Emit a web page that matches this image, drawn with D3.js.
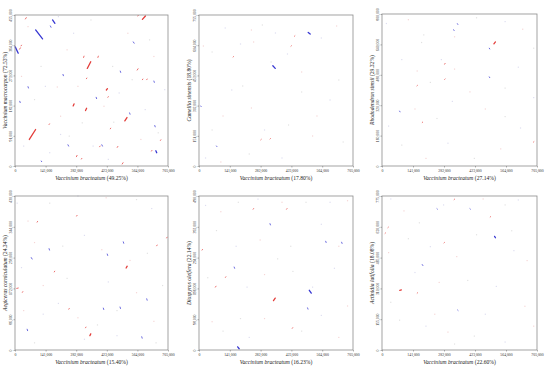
<!DOCTYPE html>
<html>
<head>
<meta charset="utf-8">
<script src="https://cdn.jsdelivr.net/npm/d3@7"></script>
<style>
  body { margin: 0; background: #fff; }
  svg { display: block; }
  text { font-family: "Liberation Serif", "DejaVu Serif", serif; }
</style>
</head>
<body>
<div id="chart"></div>
<script>
// species on the y axis of each panel, with the share of aligned sequence
const yNames = ["Vaccinium macrocarpon", "Camellia sinensis", "Rhododendron simsii",
                "Aegiceras corniculatum", "Diospyros oleifera", "Actinidia latifolia"];
const yPct = ["72.53%", "18.80%", "29.32%", "24.34%", "22.14%", "18.08%"];
const xName = "Vaccinium bracteatum";
const xPct = ["49.25%", "17.80%", "27.14%", "15.40%", "16.23%", "22.60%"];

// tick labels (bp)
const xTicks = [0, 141000, 282000, 423000, 564000, 705000];
const yTicks = [
  [0, 91000, 182000, 273000, 364000, 455000],
  [0, 151000, 302000, 453000, 604000, 755000],
  [0, 160000, 320000, 480000, 640000, 800000],
  [0, 86000, 172000, 258000, 344000, 430000],
  [0, 98000, 196000, 294000, 392000, 490000],
  [0, 155000, 310000, 465000, 620000, 775000]
];

// homologous hits, [x start, y start, x end, y end] in kb
const hits1 = [
  [95, 410, 127, 383], [173, 440, 184, 430], [163, 422, 166, 418], [1, 359, 15, 340],
  [21, 352, 25, 356], [28, 362, 30, 364], [587, 442, 601, 452], [566, 452, 568, 454],
  [545, 374, 549, 370], [333, 294, 349, 314], [316, 327, 318, 331], [382, 327, 384, 331],
  [485, 286, 487, 282], [221, 276, 223, 272], [563, 289, 567, 293], [587, 260, 589, 262],
  [607, 260, 609, 262], [640, 256, 642, 252], [329, 263, 331, 265], [60, 239, 62, 235],
  [421, 229, 426, 233], [428, 207, 430, 209], [374, 207, 376, 203], [268, 181, 272, 187],
  [325, 167, 330, 174], [22, 195, 24, 191], [528, 160, 530, 156], [506, 136, 516, 146],
  [157, 125, 159, 127], [66, 80, 95, 110], [439, 112, 441, 114], [644, 122, 646, 118],
  [670, 77, 672, 79], [244, 64, 247, 60], [400, 64, 403, 60], [390, 58, 392, 60],
  [471, 56, 474, 59], [649, 46, 653, 40], [629, 45, 631, 47], [283, 28, 286, 32],
  [306, 21, 308, 23], [494, 6, 498, 10], [121, 15, 123, 13], [48, 443, 52, 447]
];
const hits2 = [
  [338, 501, 349, 488], [500, 668, 509, 660], [8, 300, 10, 297], [283, 131, 285, 133],
  [325, 135, 327, 137], [156, 545, 158, 547], [80, 100, 82, 97], [421, 599, 423, 601],
  [437, 649, 439, 651]
];
const hits3 = [
  [343, 749, 345, 745], [326, 717, 328, 713], [509, 643, 516, 653], [285, 536, 287, 540],
  [488, 620, 490, 616], [80, 289, 82, 285], [183, 229, 185, 231], [689, 126, 691, 128],
  [488, 469, 490, 465], [159, 422, 161, 424], [285, 456, 287, 458]
];
const hits4 = [
  [75, 258, 79, 254], [512, 229, 517, 234], [181, 218, 183, 220], [8, 172, 15, 173],
  [34, 161, 36, 163], [345, 40, 349, 45], [325, 62, 327, 64], [157, 283, 159, 279],
  [425, 268, 427, 264], [284, 374, 286, 376], [499, 302, 501, 298], [607, 143, 609, 139],
  [56, 58, 58, 54], [102, 357, 104, 359], [699, 313, 701, 315], [653, 291, 655, 293],
  [584, 37, 586, 33], [407, 117, 409, 113], [248, 114, 250, 116], [484, 120, 486, 116]
];
const hits5 = [
  [505, 190, 514, 181], [341, 157, 349, 165], [75, 200, 78, 203], [14, 318, 16, 320],
  [177, 10, 184, 4], [325, 402, 327, 398], [401, 448, 403, 450], [248, 448, 250, 450],
  [161, 264, 163, 260], [427, 69, 429, 71], [497, 134, 499, 130], [121, 231, 123, 233],
  [580, 346, 582, 342], [653, 343, 655, 339]
];
const hits6 = [
  [512, 572, 516, 565], [81, 300, 88, 302], [14, 587, 16, 589], [183, 430, 186, 425],
  [250, 711, 252, 709], [400, 711, 402, 709], [344, 201, 346, 199], [160, 286, 162, 288],
  [328, 757, 330, 759], [282, 539, 284, 541], [492, 669, 494, 671], [27, 616, 29, 618]
];

// faint low-identity hits, [x, y] in kb
const faint1 = [[40, 60], [60, 420], [120, 300], [200, 450], [210, 150], [250, 90], [270, 400],
  [290, 240], [350, 440], [360, 60], [410, 180], [450, 300], [480, 220], [520, 400], [540, 260],
  [600, 170], [640, 330], [660, 100], [690, 230], [30, 270], [90, 200], [160, 40], [240, 350],
  [310, 130], [430, 20], [580, 80], [620, 380], [140, 240], [195, 238], [455, 132], [210, 95]];
const faint2 = [[120, 690], [240, 680], [290, 705], [350, 665], [20, 600], [60, 570], [190, 610],
  [250, 620], [330, 520], [405, 560], [470, 470], [640, 430], [600, 330], [540, 250], [410, 205],
  [300, 180], [240, 290], [200, 400], [150, 380], [110, 250], [60, 180], [30, 40], [100, 20],
  [230, 60], [380, 40], [520, 150], [660, 120], [560, 640], [630, 700], [470, 370]];
const faint3 = [[20, 750], [120, 770], [190, 690], [270, 560], [330, 680], [430, 780], [560, 760],
  [640, 720], [690, 620], [90, 560], [160, 500], [220, 440], [320, 340], [400, 390], [560, 410],
  [620, 520], [470, 300], [560, 260], [630, 200], [540, 90], [420, 40], [300, 120], [200, 40],
  [90, 110], [30, 210], [150, 300], [250, 250], [690, 360], [330, 510], [180, 650]];
const faint4 = [[10, 410], [60, 360], [160, 410], [290, 430], [420, 425], [560, 420], [630, 395],
  [90, 300], [220, 290], [320, 320], [400, 280], [610, 270], [30, 230], [130, 180], [240, 200],
  [430, 190], [560, 160], [680, 180], [200, 130], [290, 90], [380, 70], [470, 40], [640, 80],
  [90, 20], [130, 100], [530, 250], [650, 20], [320, 30], [40, 110], [470, 110]];
const faint5 = [[30, 460], [100, 440], [180, 470], [270, 480], [380, 470], [490, 470], [600, 470],
  [680, 475], [80, 380], [170, 330], [280, 350], [420, 330], [560, 400], [640, 330], [40, 230],
  [220, 200], [300, 240], [430, 250], [620, 260], [60, 90], [110, 60], [230, 40], [300, 100],
  [470, 60], [560, 110], [640, 40], [190, 100], [520, 200], [680, 140], [360, 290]];
const faint6 = [[40, 760], [100, 700], [170, 640], [280, 730], [460, 760], [560, 730], [620, 755],
  [30, 490], [120, 560], [220, 520], [340, 470], [430, 580], [600, 500], [660, 450], [40, 240],
  [150, 390], [260, 340], [390, 350], [520, 320], [650, 220], [80, 150], [200, 120], [300, 90],
  [420, 70], [560, 40], [690, 120], [330, 30], [470, 180], [240, 180], [590, 600]];

const hits = [hits1, hits2, hits3, hits4, hits5, hits6];
const faint = [faint1, faint2, faint3, faint4, faint5, faint6];

// plot boxes [left, top, right, bottom]
const boxes = [
  [15, 15, 168, 166], [199, 15, 353, 166], [382, 14, 537, 166],
  [15, 196, 168, 350], [199, 196, 353, 350], [382, 196, 537, 350]
];

const svg = d3.select("#chart").append("svg")
    .attr("width", 550)
    .attr("height", 368);

const fmt = d3.format(",");
const fwd = "#e2312e", rev = "#2b2bd0";
const span = d => Math.abs(d[2] - d[0]) + Math.abs(d[3] - d[1]);

boxes.forEach(function(b, i) {
  const w = b[2] - b[0], h = b[3] - b[1];
  const yt = yTicks[i];
  const x = d3.scaleLinear().domain([0, 705000]).range([0, w]);
  const y = d3.scaleLinear().domain([0, yt[yt.length - 1]]).range([h, 0]);

  const g = svg.append("g").attr("transform", `translate(${b[0]},${b[1]})`);

  // faint hits
  g.selectAll(".faint")
    .data(faint[i])
    .enter()
    .append("rect")
      .attr("x", d => x(d[0] * 1000) - 0.6)
      .attr("y", d => y(d[1] * 1000) - 0.6)
      .attr("width", 1.2)
      .attr("height", 1.2)
      .attr("fill", (d, j) => j % 3 === 0 ? "#dedef0" : (j % 3 === 1 ? "#f5d6d6" : "#e2e2e2"));

  // hits, coloured by orientation; short ones drawn lighter
  g.selectAll(".hit")
    .data(hits[i])
    .enter()
    .append("line")
      .attr("x1", d => x(d[0] * 1000))
      .attr("y1", d => y(d[1] * 1000))
      .attr("x2", d => x(d[2] * 1000))
      .attr("y2", d => y(d[3] * 1000))
      .attr("stroke", d => (d[2] - d[0]) * (d[3] - d[1]) >= 0 ? fwd : rev)
      .attr("stroke-width", d => span(d) > 8 ? 1.3 : 1)
      .attr("stroke-opacity", d => span(d) > 8 ? 0.95 : 0.7)
      .attr("stroke-linecap", "round");

  // frame
  g.append("rect")
    .attr("width", w).attr("height", h)
    .attr("fill", "none")
    .attr("stroke", "#8c8c8c")
    .attr("stroke-width", 0.8);

  // x axis
  const xa = g.append("g")
    .attr("transform", `translate(0,${h})`)
    .call(d3.axisBottom(x).tickValues(xTicks).tickFormat(fmt).tickSize(1.5).tickPadding(1.5));
  xa.select(".domain").remove();
  xa.selectAll("line").attr("stroke", "#666").attr("stroke-width", 0.5);
  xa.selectAll("text").attr("font-size", 3.8).attr("fill", "#333")
    .attr("font-family", "Liberation Serif, serif");

  // y axis, labels rotated
  const ya = g.append("g")
    .call(d3.axisLeft(y).tickValues(yt).tickFormat(fmt).tickSize(1.5).tickPadding(1.5));
  ya.select(".domain").remove();
  ya.selectAll(".tick line").attr("stroke", "#666").attr("stroke-width", 0.5);
  ya.selectAll(".tick text")
    .attr("font-size", 3.8).attr("fill", "#333")
    .attr("font-family", "Liberation Serif, serif")
    .attr("text-anchor", "middle")
    .attr("x", 0).attr("y", 0).attr("dy", 0)
    .attr("transform", "translate(-3,0) rotate(-90)");

  // axis titles
  const xt = g.append("text")
    .attr("x", w / 2).attr("y", h + 13.5)
    .attr("text-anchor", "middle")
    .attr("font-size", 5.6).attr("fill", "#222");
  xt.append("tspan").attr("font-style", "italic").text(xName);
  xt.append("tspan").text(` (${xPct[i]})`);

  const ytl = g.append("text")
    .attr("transform", `translate(-8.5,${h / 2}) rotate(-90)`)
    .attr("text-anchor", "middle")
    .attr("font-size", 5.6).attr("fill", "#222");
  ytl.append("tspan").attr("font-style", "italic").text(yNames[i]);
  ytl.append("tspan").text(` (${yPct[i]})`);
});
</script>
</body>
</html>
